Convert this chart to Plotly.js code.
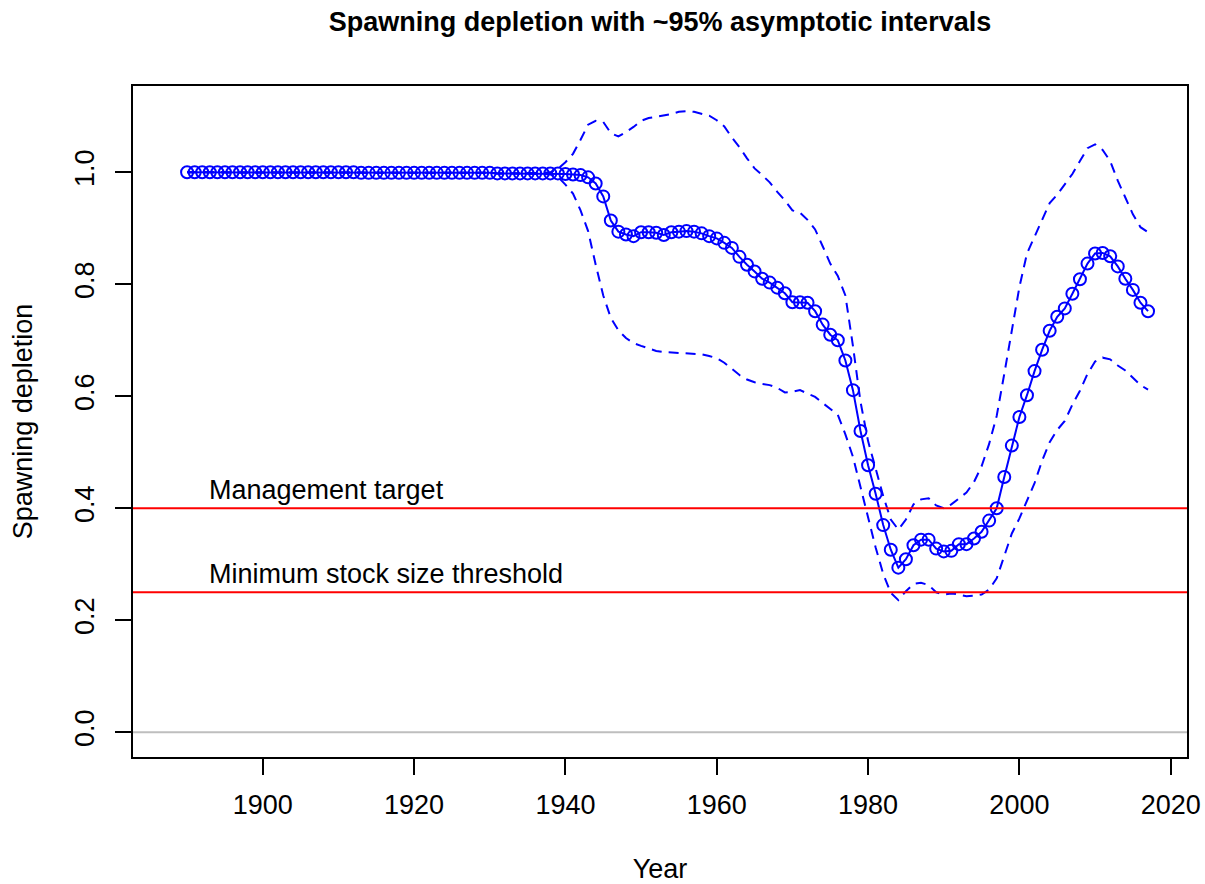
<!DOCTYPE html>
<html>
<head>
<meta charset="utf-8">
<script src="https://cdn.plot.ly/plotly-3.0.1.min.js"></script>
<style>html,body{margin:0;padding:0;background:#fff;}#chart{width:1205px;height:884px;}</style>
</head>
<body>
<div id="chart"></div>
<script>
// Years 1890..2017
const years = [];
for (let y = 1890; y <= 2017; y++) years.push(y);

const depletion = [
  // 1890-1899
  1.000,1.000,1.000,1.000,1.000,1.000,1.000,1.000,1.000,1.000,
  // 1900-1909
  1.000,1.000,1.000,1.000,1.000,1.000,1.000,1.000,1.000,1.000,
  // 1910-1919
  1.000,1.000,1.000,0.999,0.999,0.999,0.999,0.999,0.999,0.999,
  // 1920-1929
  0.999,0.999,0.999,0.999,0.999,0.999,0.999,0.999,0.999,0.999,
  // 1930-1939
  0.999,0.998,0.998,0.998,0.998,0.998,0.998,0.998,0.998,0.998,
  // 1940-1949
  0.997,0.996,0.995,0.991,0.980,0.957,0.914,0.894,0.889,0.886,
  // 1950-1959
  0.893,0.893,0.892,0.888,0.893,0.894,0.895,0.894,0.891,0.886,
  // 1960-1969
  0.882,0.874,0.865,0.849,0.835,0.823,0.810,0.803,0.794,0.784,
  // 1970-1979
  0.768,0.768,0.767,0.752,0.728,0.710,0.700,0.664,0.611,0.538,
  // 1980-1989
  0.477,0.426,0.370,0.326,0.294,0.309,0.334,0.344,0.344,0.328,
  // 1990-1999
  0.323,0.324,0.336,0.336,0.346,0.358,0.378,0.400,0.456,0.512,
  // 2000-2009
  0.563,0.602,0.645,0.683,0.717,0.742,0.757,0.783,0.809,0.837,
  // 2010-2017
  0.855,0.856,0.850,0.832,0.810,0.790,0.767,0.752
];

const upper95 = [
  1.000,1.000,1.000,1.000,1.000,1.000,1.000,1.000,1.000,1.000,
  1.000,1.000,1.000,1.000,1.000,1.000,1.000,1.000,1.000,1.000,
  1.000,1.000,1.000,0.999,0.999,0.999,0.999,0.999,0.999,0.999,
  0.999,0.999,0.999,0.999,0.999,0.999,0.999,0.999,0.999,0.999,
  0.999,0.998,0.998,0.998,0.998,0.998,0.998,0.999,1.000,1.006,
  // 1940-1949
  1.018,1.033,1.058,1.085,1.092,1.090,1.070,1.064,1.072,1.081,
  // 1950-1959
  1.092,1.097,1.099,1.101,1.104,1.108,1.109,1.108,1.105,1.101,
  // 1960-1969
  1.093,1.082,1.062,1.045,1.025,1.007,0.995,0.982,0.965,0.950,
  // 1970-1979
  0.932,0.928,0.915,0.898,0.868,0.837,0.815,0.780,0.690,0.590,
  // 1980-1989
  0.520,0.470,0.422,0.380,0.362,0.380,0.407,0.416,0.418,0.405,
  // 1990-1999
  0.400,0.407,0.417,0.428,0.447,0.475,0.515,0.565,0.640,0.715,
  // 2000-2009
  0.795,0.855,0.885,0.918,0.945,0.960,0.978,0.997,1.020,1.043,
  // 2010-2017
  1.050,1.040,1.020,0.985,0.955,0.925,0.902,0.893
];

const lower95 = [
  1.000,1.000,1.000,1.000,1.000,1.000,1.000,1.000,1.000,1.000,
  1.000,1.000,1.000,1.000,1.000,1.000,1.000,1.000,1.000,1.000,
  1.000,1.000,1.000,0.999,0.999,0.999,0.999,0.999,0.999,0.999,
  0.999,0.999,0.999,0.999,0.999,0.999,0.999,0.999,0.999,0.999,
  0.999,0.998,0.998,0.998,0.998,0.998,0.998,0.997,0.996,0.992,
  // 1940-1949
  0.978,0.962,0.932,0.895,0.835,0.780,0.740,0.718,0.704,0.695,
  // 1950-1959
  0.690,0.686,0.681,0.679,0.678,0.677,0.677,0.676,0.675,0.672,
  // 1960-1969
  0.668,0.660,0.649,0.638,0.630,0.625,0.622,0.620,0.615,0.607,
  // 1970-1979
  0.608,0.611,0.605,0.599,0.588,0.577,0.567,0.532,0.492,0.438,
  // 1980-1989
  0.385,0.330,0.283,0.249,0.236,0.252,0.265,0.267,0.263,0.250,
  // 1990-1999
  0.246,0.248,0.246,0.243,0.244,0.246,0.255,0.275,0.315,0.355,
  // 2000-2009
  0.382,0.415,0.445,0.485,0.518,0.540,0.556,0.585,0.610,0.640,
  // 2010-2017
  0.662,0.669,0.666,0.655,0.646,0.633,0.620,0.612
];

const refLevels = [0.4, 0.25];
const refLabels = ["Management target", "Minimum stock size threshold"];
const xTicks = [1900, 1920, 1940, 1960, 1980, 2000, 2020];
const yTicks = [0.0, 0.2, 0.4, 0.6, 0.8, 1.0];
const yTickText = ["0.0", "0.2", "0.4", "0.6", "0.8", "1.0"];

const FONT = "Arial, 'Liberation Sans', sans-serif";
const FS = 27;
const BLUE = "#0000FF";

const traces = [
  {
    x: years, y: upper95, type: "scatter", mode: "lines",
    line: {color: BLUE, width: 2, dash: "10px,7px"}, hoverinfo: "skip", showlegend: false
  },
  {
    x: years, y: lower95, type: "scatter", mode: "lines",
    line: {color: BLUE, width: 2, dash: "10px,7px"}, hoverinfo: "skip", showlegend: false
  },
  {
    x: years, y: depletion, type: "scatter", mode: "lines+markers",
    line: {color: BLUE, width: 2},
    marker: {symbol: "circle-open", size: 12, color: BLUE, line: {color: BLUE, width: 2}},
    showlegend: false
  }
];

const shapes = [
  {type: "line", xref: "paper", x0: 0, x1: 1, yref: "y", y0: 0, y1: 0,
   line: {color: "#BEBEBE", width: 2}, layer: "below"}
];
refLevels.forEach(v => shapes.push({
  type: "line", xref: "paper", x0: 0, x1: 1, yref: "y", y0: v, y1: v,
  line: {color: "#FF0000", width: 2}, layer: "above"
}));

const annotations = refLevels.map((v, i) => ({
  x: 1892.6, y: v, xref: "x", yref: "y", text: refLabels[i],
  showarrow: false, xanchor: "left", yanchor: "bottom", yshift: 1,
  font: {family: FONT, size: FS, color: "#000"}
}));

const layout = {
  width: 1205, height: 884,
  margin: {l: 133, r: 18, t: 86, b: 127},
  paper_bgcolor: "#fff", plot_bgcolor: "#fff",
  font: {family: FONT, size: FS, color: "#000"},
  title: {
    text: "Spawning depletion with ~95% asymptotic intervals",
    font: {family: FONT, size: FS, weight: "bold", color: "#000"},
    x: 0.5, xref: "paper", y: 1 - 22/884, yref: "container", yanchor: "middle"
  },
  xaxis: {
    range: [1882.85, 2022.15], tickvals: xTicks, ticktext: xTicks.map(String),
    ticks: "outside", ticklen: 16, tickwidth: 2, tickcolor: "#000",
    showline: true, linecolor: "#000", linewidth: 2, mirror: true,
    showgrid: false, zeroline: false, ticklabelstandoff: 7,
    tickfont: {family: FONT, size: FS, color: "#000"},
    title: {text: "Year", font: {family: FONT, size: FS, color: "#000"}, standoff: 40}
  },
  yaxis: {
    range: [-0.0441, 1.1541], tickvals: yTicks, ticktext: yTickText, tickangle: -90,
    ticks: "outside", ticklen: 16, tickwidth: 2, tickcolor: "#000",
    showline: true, linecolor: "#000", linewidth: 2, mirror: true,
    showgrid: false, zeroline: false, ticklabelstandoff: 10,
    tickfont: {family: FONT, size: FS, color: "#000"},
    title: {text: "Spawning depletion", font: {family: FONT, size: FS, color: "#000"}, standoff: 30}
  },
  shapes: shapes,
  annotations: annotations,
  showlegend: false
};

Plotly.newPlot("chart", traces, layout, {displayModeBar: false, staticPlot: true});
</script>
</body>
</html>
